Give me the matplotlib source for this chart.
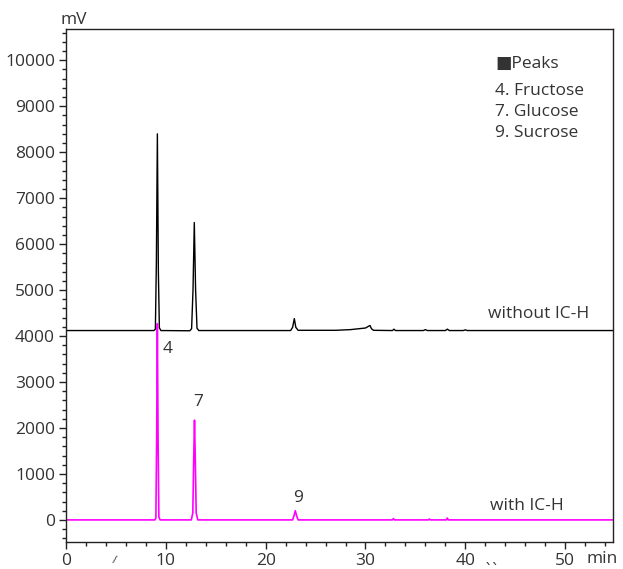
import matplotlib
matplotlib.use("Agg")
import matplotlib.pyplot as plt
from matplotlib.ticker import MultipleLocator

plt.rcParams['font.family'] = ['Open Sans', 'DejaVu Sans']

# Chromatogram without IC-H (black) (min, mV)
t_without = [0, 8.8, 8.95, 9.05, 9.15, 9.25, 9.35, 9.5,
             12.4, 12.58, 12.72, 12.85, 12.98, 13.12, 13.3,
             22.5, 22.7, 22.87, 23.02, 23.25,
             27.0, 28.5, 30.0, 30.45, 30.6, 30.8,
             32.7, 32.85, 33.0, 35.8, 36.0, 36.2, 38.0, 38.2, 38.4, 39.8, 40.0, 40.2, 55]
v_without = [4120, 4120, 4150, 5600, 8400, 5400, 4180, 4120,
             4115, 4160, 5000, 6470, 5000, 4170, 4120,
             4120, 4190, 4380, 4190, 4125,
             4125, 4140, 4175, 4230, 4160, 4125,
             4120, 4150, 4120, 4120, 4140, 4120, 4120, 4150, 4120, 4120, 4135, 4120, 4120]

# Chromatogram with IC-H (magenta)
t_with = [0, 8.9, 9.0, 9.08, 9.15, 9.22, 9.3, 9.42,
          12.55, 12.7, 12.79, 12.87, 12.95, 13.04, 13.2,
          22.7, 22.85, 22.97, 23.1, 23.25,
          32.7, 32.8, 32.9, 36.3, 36.4, 36.5, 38.1, 38.2, 38.3, 55]
v_with = [0, 0, 40, 1800, 4270, 1800, 70, 0,
          0, 150, 1300, 2170, 1300, 150, 0,
          0, 100, 200, 90, 0,
          0, 30, 0, 0, 20, 0, 0, 40, 0, 0]

peak_labels = ["4", "7", "9"]
peak_label_pos = [(10.2, 3550), (13.2, 2400), (23.2, 300)]
legend_lines = ["4. Fructose", "7. Glucose", "9. Sucrose"]

x_ticks = [0, 10, 20, 30, 40, 50]
y_ticks = [0, 1000, 2000, 3000, 4000, 5000, 6000, 7000, 8000, 9000, 10000]

txt = '#333333'
fig = plt.figure(figsize=(6.23, 5.69), dpi=100)
ax = fig.add_axes([0.106, 0.0475, 0.878, 0.9015])

ax.plot(t_without, v_without, color='black', lw=1.0)
ax.plot(t_with, v_with, color='#ff00ff', lw=1.2)

ax.set_xlim(0, 54.8)
ax.set_ylim(-480, 10680)
ax.set_xticks(x_ticks)
ax.set_yticks(y_ticks)
ax.xaxis.set_minor_locator(MultipleLocator(2))
ax.yaxis.set_minor_locator(MultipleLocator(200))
ax.tick_params(which='major', length=5, width=1, colors='#222222', labelcolor=txt, labelsize=12.5, pad=3)
ax.tick_params(which='minor', length=3, width=1, colors='#222222')
for s in ax.spines.values():
    s.set_color('#222222')
    s.set_linewidth(1.0)

for lab, (x, y) in zip(peak_labels, peak_label_pos):
    ax.text(x, y, lab, color=txt, fontsize=12.5, ha='center', va='bottom')

ax.text(42.3, 4300, "without IC-H", color=txt, fontsize=12.5, ha='left', va='bottom')
ax.text(42.5, 130, "with IC-H", color=txt, fontsize=12.5, ha='left', va='bottom')

ax.text(43.0, 9920, "\u25A0Peaks", color=txt, fontsize=12.5, ha='left', va='center')
for i, line in enumerate(legend_lines):
    ax.text(43.0, 9330 - i * 460, line, color=txt, fontsize=12.5, ha='left', va='center')

fig.text(0.097, 0.965, "mV", color=txt, fontsize=12.5, ha='left', va='center')
fig.text(0.942, 0.018, "min", color=txt, fontsize=12.5, ha='left', va='center')
fig.text(0.183, 0.014, "/", color=txt, fontsize=8, ha='center', va='center', rotation=-10)
fig.text(0.79, 0.02, "\u02CE\u02CE", color=txt, fontsize=11, ha='center', va='center')

fig.savefig("out.png", dpi=100)
